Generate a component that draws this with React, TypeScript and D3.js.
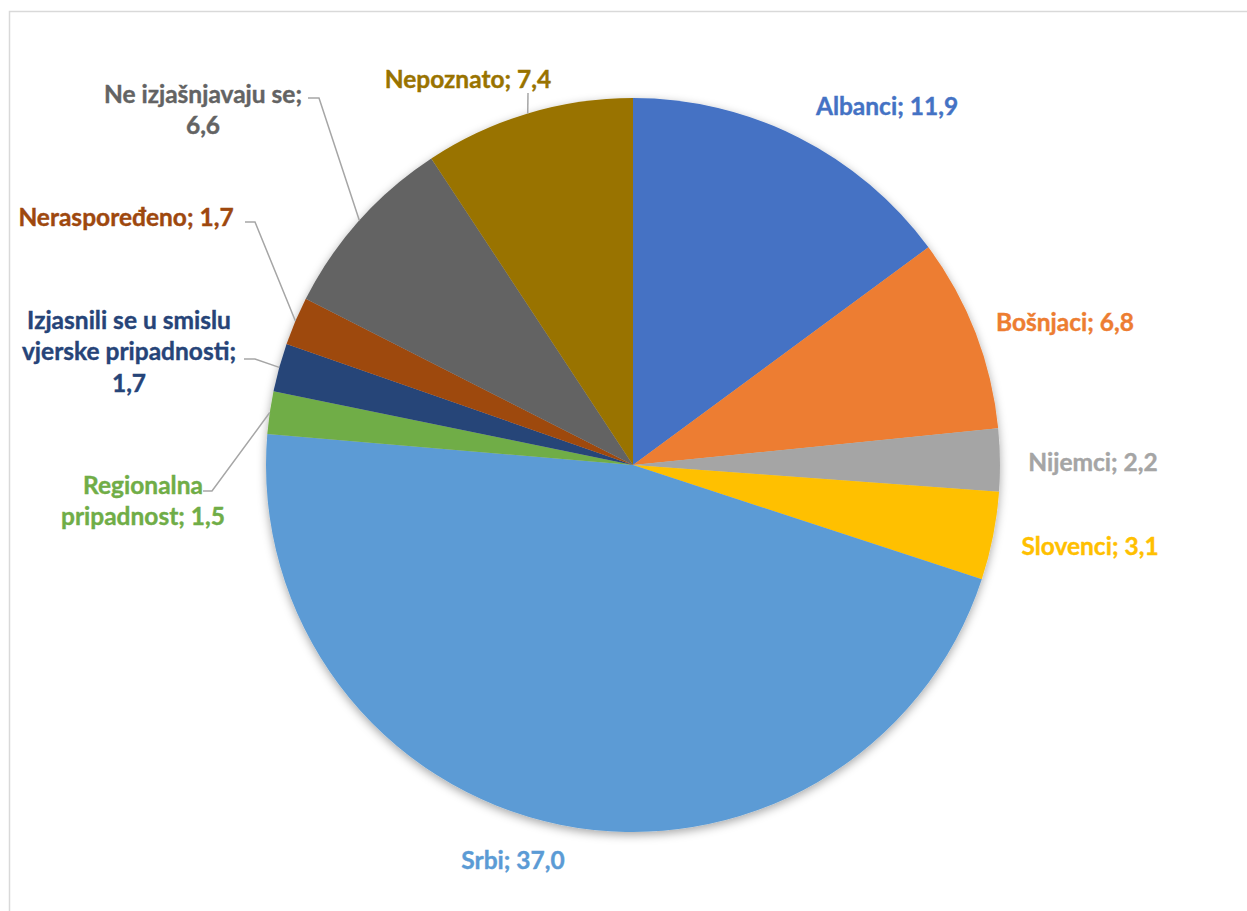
import React from "react";
import * as d3 from "d3";

const categories = [
  "Albanci",
  "Bošnjaci",
  "Nijemci",
  "Slovenci",
  "Srbi",
  "Regionalna pripadnost",
  "Izjasnili se u smislu vjerske pripadnosti",
  "Neraspoređeno",
  "Ne izjašnjavaju se",
  "Nepoznato",
];
const values = [11.9, 6.8, 2.2, 3.1, 37.0, 1.5, 1.7, 1.7, 6.6, 7.4];
const colors = [
  "#4472C4",
  "#ED7D31",
  "#A5A5A5",
  "#FFC000",
  "#5B9BD5",
  "#70AD47",
  "#264478",
  "#9E480E",
  "#636363",
  "#997300",
];
// label text lines (as displayed)
const labelLines: string[][] = [
  ["Albanci; 11,9"],
  ["Bošnjaci; 6,8"],
  ["Nijemci; 2,2"],
  ["Slovenci; 3,1"],
  ["Srbi; 37,0"],
  ["Regionalna", "pripadnost; 1,5"],
  ["Izjasnili se u smislu", "vjerske pripadnosti;", "1,7"],
  ["Neraspoređeno; 1,7"],
  ["Ne izjašnjavaju se;", "6,6"],
  ["Nepoznato; 7,4"],
];

// layout for labels: center x, first line center y, leader start points
const labelLayout: { cx: number; cy: number; leader?: [number, number][] }[] = [
  { cx: 887, cy: 105 },
  { cx: 1065, cy: 321 },
  { cx: 1093, cy: 461 },
  { cx: 1090, cy: 545 },
  { cx: 513, cy: 859 },
  { cx: 143, cy: 484, leader: [[203, 491], [212, 491]] },
  { cx: 129, cy: 319, leader: [[244, 359], [255, 359]] },
  { cx: 126, cy: 216, leader: [[245, 222], [255, 222]] },
  { cx: 203, cy: 93, leader: [[308, 98], [319, 98]] },
  { cx: 468, cy: 78, leader: [[528, 93]] },
];

const W = 1247;
const H = 911;
const CX = 633;
const CY = 465;
const R = 367;
const LINE_H = 31.5;

export default function App() {
  const pie = d3
    .pie<number>()
    .sort(null)
    .value((d) => d)
    .startAngle(0)
    .endAngle(2 * Math.PI);
  const arcs = pie(values);
  const arc = d3.arc<d3.PieArcDatum<number>>().innerRadius(0).outerRadius(R);

  return (
    <svg
      width={W}
      height={H}
      style={{ position: "fixed", left: 0, top: 0, background: "#fff" }}
      fontFamily="Lato, 'Open Sans', sans-serif"
    >
      <defs>
        <filter id="sh" x="-20%" y="-20%" width="140%" height="140%">
          <feDropShadow dx="0" dy="3" stdDeviation="5" floodColor="#000" floodOpacity="0.35" />
        </filter>
      </defs>
      <rect x={9.5} y={11.5} width={W} height={H} fill="none" stroke="#d9d9d9" strokeWidth={1.5} />
      <g transform={`translate(${CX},${CY})`} filter="url(#sh)">
        {arcs.map((a, i) => (
          <path key={categories[i]} d={arc(a) || ""} fill={colors[i]} />
        ))}
      </g>
      {arcs.map((a, i) => {
        const L = labelLayout[i];
        if (!L.leader) return null;
        const mid = (a.startAngle + a.endAngle) / 2;
        const ex = CX + R * Math.sin(mid);
        const ey = CY - R * Math.cos(mid);
        const pts = [...L.leader, [ex, ey]];
        return (
          <polyline
            key={"l" + i}
            points={pts.map((p) => p.join(",")).join(" ")}
            fill="none"
            stroke="#a6a6a6"
            strokeWidth={1.5}
          />
        );
      })}
      {labelLines.map((lines, i) => {
        const L = labelLayout[i];
        return (
          <text
            key={"t" + i}
            textAnchor="middle"
            fontWeight={700}
            fontSize={24.5}
            fill={colors[i]}
            stroke={colors[i]}
            strokeWidth={0.4}
          >
            {lines.map((s, j) => (
              <tspan key={j} x={L.cx} y={L.cy + j * LINE_H} dominantBaseline="central">
                {s}
              </tspan>
            ))}
          </text>
        );
      })}
    </svg>
  );
}
